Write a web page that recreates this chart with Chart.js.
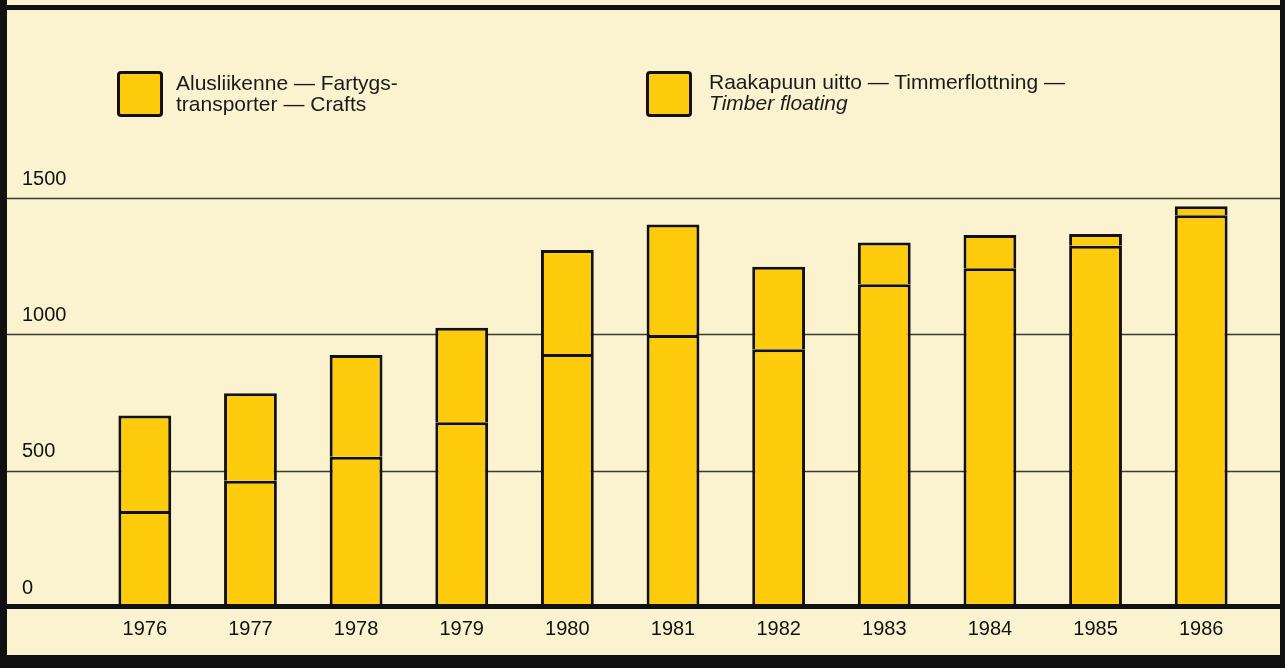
<!DOCTYPE html>
<html>
<head>
<meta charset="utf-8">
<script src="https://cdn.jsdelivr.net/npm/chart.js@4/dist/chart.umd.min.js"></script>
<style>
  html, body { margin: 0; padding: 0; background: #FBF3CF; }
  #wrap { position: relative; width: 1285px; height: 668px; overflow: hidden; }
  #c { position: absolute; left: 0; top: 0; }
  .leg { position: absolute; font-family: "Liberation Sans", Arial, sans-serif; font-size: 21px; line-height: 21px; color: #1a1a1a; white-space: nowrap; }
  .box { position: absolute; width: 40px; height: 40px; border: 3px solid #111; border-radius: 4px; background: #FFCC0D; }
</style>
</head>
<body>
<div id="wrap">
  <canvas id="c" width="1285" height="668"></canvas>
  <div class="box" id="box1" style="left:117px; top:71px;"></div>
  <div class="leg" id="leg1" style="left:176px; top:72px;">Alusliikenne — Fartygs-<br>transporter — Crafts</div>
  <div class="box" id="box2" style="left:646px; top:71px;"></div>
  <div class="leg" id="leg2" style="left:709px; top:71px;">Raakapuun uitto — Timmerflottning —<br><i>Timber floating</i></div>
</div>
<script>
// ---- data ----
const years = ['1976','1977','1978','1979','1980','1981','1982','1983','1984','1985','1986'];
const timberFloating = [352, 463, 551, 678, 928, 998, 945, 1184, 1242, 1325, 1437];
const craftsTotal = [702, 784, 924, 1024, 1309, 1403, 1248, 1337, 1364, 1368, 1470];
const crafts = craftsTotal.map((t, i) => t - timberFloating[i]);
const yTicks = [0, 500, 1000, 1500];

const YELLOW = '#FFCC0D';
const CREAM = '#FBF3CF';
const INK = '#111111';

const framePlugin = {
  id: 'frame',
  beforeDraw(chart) {
    const ctx = chart.ctx;
    ctx.save();
    ctx.fillStyle = CREAM;
    ctx.fillRect(0, 0, chart.width, chart.height);
    ctx.restore();
  },
  beforeDatasetsDraw(chart) {
    const ctx = chart.ctx;
    const y = chart.scales.y;
    ctx.save();
    ctx.strokeStyle = '#3b3a30';
    ctx.lineWidth = 1.3;
    yTicks.forEach(v => {
      if (v === 0) return;
      const py = Math.round(y.getPixelForValue(v)) + 0.5;
      ctx.beginPath();
      ctx.moveTo(7, py);
      ctx.lineTo(1280, py);
      ctx.stroke();
    });
    ctx.restore();
  },
  afterDatasetsDraw(chart) {
    const ctx = chart.ctx;
    const y = chart.scales.y;
    ctx.save();
    ctx.fillStyle = INK;
    ctx.fillRect(0, 5, chart.width, 5);      // top line
    ctx.fillRect(0, 0, 7, chart.height);     // left
    ctx.fillRect(1280, 0, 5, chart.height);  // right
    ctx.fillRect(0, 655, chart.width, 13);   // bottom
    const p0 = y.getPixelForValue(0);
    ctx.fillRect(0, p0 - 3, chart.width, 5); // baseline
    ctx.restore();
  }
};

new Chart(document.getElementById('c'), {
  type: 'bar',
  data: {
    labels: years,
    datasets: [
      {
        label: 'Raakapuun uitto — Timmerflottning — Timber floating',
        data: timberFloating,
        backgroundColor: YELLOW,
        borderColor: INK,
        borderWidth: 3,
        borderSkipped: 'start',
        categoryPercentage: 1,
        barPercentage: 0.5
      },
      {
        label: 'Alusliikenne — Fartygstransporter — Crafts',
        data: crafts,
        backgroundColor: YELLOW,
        borderColor: INK,
        borderWidth: 3,
        borderSkipped: 'start',
        categoryPercentage: 1,
        barPercentage: 0.5
      }
    ]
  },
  options: {
    responsive: false,
    animation: false,
    devicePixelRatio: 1,
    layout: { padding: { left: 22, right: 31, top: 198, bottom: 0 } },
    plugins: { legend: { display: false }, tooltip: { enabled: false } },
    scales: {
      x: {
        stacked: true,
        grid: { display: false, drawTicks: false },
        border: { display: false },
        ticks: {
          color: INK,
          font: { family: '"Liberation Sans", Arial, sans-serif', size: 20 },
          padding: 10,
          maxRotation: 0
        },
        afterFit(s) { s.height = 61; }
      },
      y: {
        stacked: true,
        min: 0,
        max: 1500,
        afterBuildTicks(s) { s.ticks = yTicks.map(v => ({ value: v })); },
        grid: { display: false, drawTicks: false },
        border: { display: false },
        ticks: {
          color: INK,
          font: { family: '"Liberation Sans", Arial, sans-serif', size: 20 },
          crossAlign: 'far',
          labelOffset: -19,
          padding: 0,
          callback: (v) => String(v)
        },
        afterFit(s) { s.width = 70; }
      }
    }
  },
  plugins: [framePlugin]
});
</script>
</body>
</html>
